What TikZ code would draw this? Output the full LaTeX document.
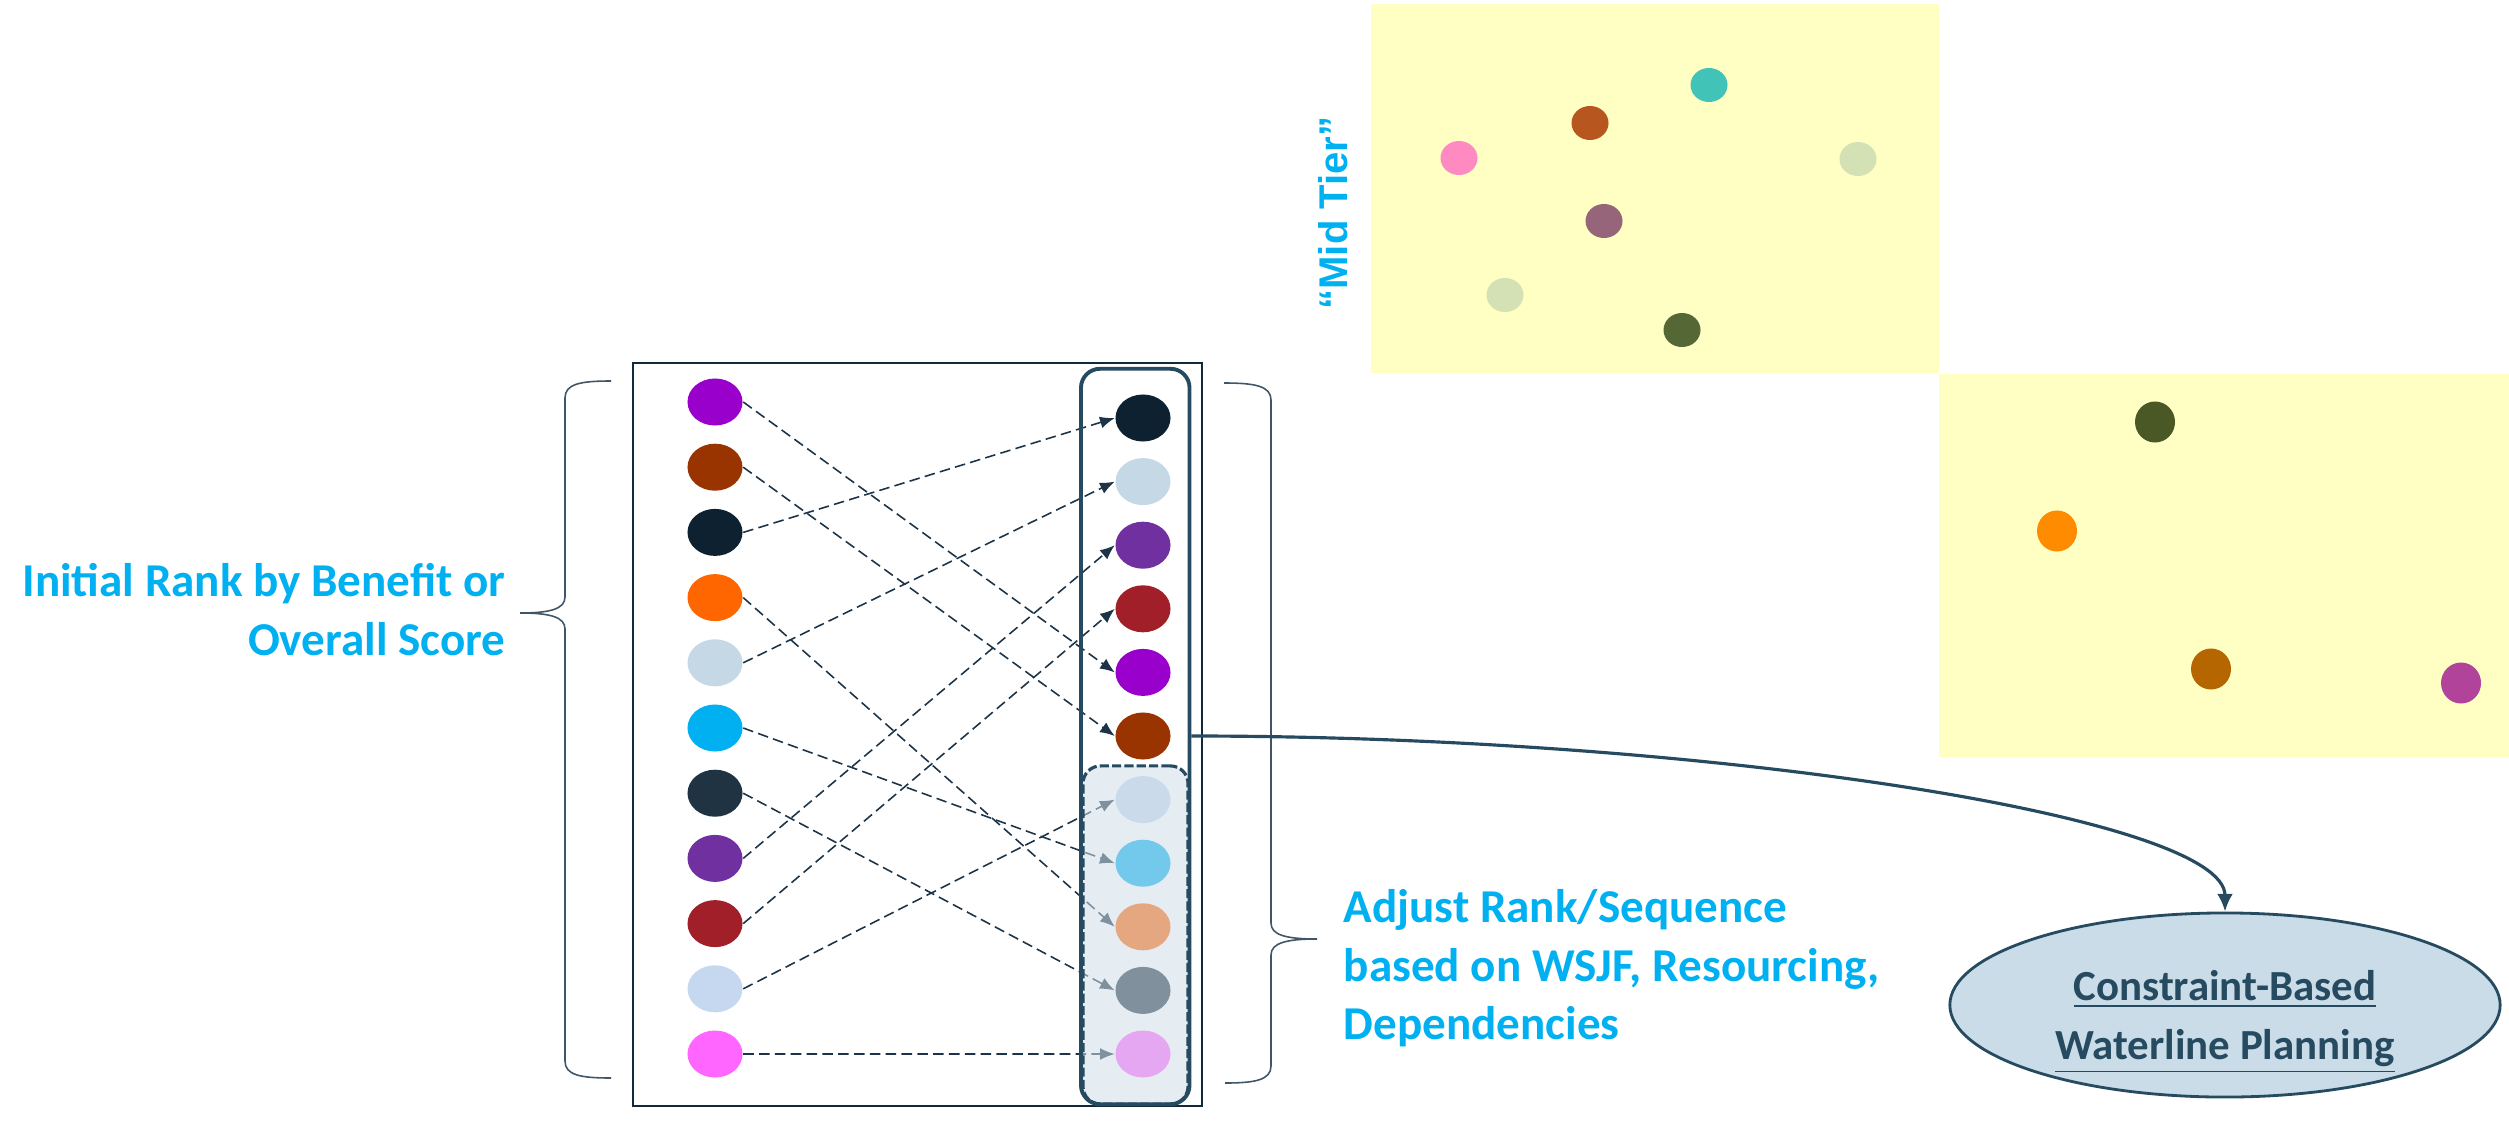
\documentclass[tikz,border=0pt]{standalone}
\usepackage{fontspec}
\setmainfont{Carlito}
\newfontfamily\arialfont{Liberation Sans}
\usetikzlibrary{arrows.meta,shapes.geometric}

\definecolor{rankblue}{HTML}{00B0F0}
\definecolor{inkdark}{HTML}{1D3448}
\definecolor{framedark}{HTML}{0F2A3D}
\definecolor{slateline}{HTML}{264A60}
\definecolor{bracegray}{HTML}{405567}
\definecolor{holdfill}{HTML}{D0DEE8}
\definecolor{planfill}{HTML}{C9DCE8}
\definecolor{tieryellow}{HTML}{FFFFC4}
\definecolor{cViolet}{HTML}{9900CC}
\definecolor{cBrown}{HTML}{993300}
\definecolor{cNavy}{HTML}{0D2130}
\definecolor{cOrange}{HTML}{FF6600}
\definecolor{cMist}{HTML}{C4D9E5}
\definecolor{cCyan}{HTML}{00B0F0}
\definecolor{cSlate}{HTML}{1F3342}
\definecolor{cPurple}{HTML}{7030A0}
\definecolor{cRed}{HTML}{A01F28}
\definecolor{cSky}{HTML}{C6D7F0}
\definecolor{cPink}{HTML}{FF66FF}
\definecolor{dPink}{HTML}{FF8AC1}
\definecolor{dRust}{HTML}{B8561F}
\definecolor{dTeal}{HTML}{41C4B7}
\definecolor{dSage}{HTML}{D3E1B4}
\definecolor{dMauve}{HTML}{976579}
\definecolor{dOlive}{HTML}{556734}
\definecolor{dMoss}{HTML}{4A5826}
\definecolor{dAmber}{HTML}{FF8C00}
\definecolor{dOchre}{HTML}{B56600}
\definecolor{dPlum}{HTML}{B1439B}

\begin{document}
\begin{tikzpicture}[x=0.01cm, y=-0.01cm,
    item/.style={ellipse, minimum width=5.5mm, minimum height=4.7mm, inner sep=0pt},
    speck/.style={ellipse, minimum width=3.7mm, minimum height=3.4mm, inner sep=0pt},
    bigspeck/.style={ellipse, minimum width=4mm, minimum height=4.1mm, inner sep=0pt},
    link/.style={inkdark, line width=0.45pt, dash pattern=on 3pt off 1.5pt, -{Latex[length=4.2pt,width=3.4pt]}},
    brace/.style={bracegray, line width=0.45pt},
    note/.style={text=rankblue, font=\fontsize{13.4}{16.6}\selectfont\bfseries, inner sep=0pt}]
    \useasboundingbox (0,0) rectangle (2509,1124);

    % tier areas
    \fill[tieryellow] (1371,4) rectangle (1939,373);
    \fill[tieryellow] (1939,374) rectangle (2509,757);
    \foreach \c/\p [count=\i] in {dPink/{1459,158}, dRust/{1590,123}, dTeal/{1709,85}, dSage/{1858,159}, dMauve/{1604,221}, dSage/{1505,295}, dOlive/{1682,330}}
        \node[speck, fill=\c] (t\i) at (\p) {};
    \foreach \c/\p [count=\i] in {dMoss/{2155,422}, dAmber/{2057,531}, dOchre/{2211,669}, dPlum/{2461,683}}
        \node[bigspeck, fill=\c] (u\i) at (\p) {};
    \node[rotate=90, text=rankblue, font=\arialfont\bfseries\fontsize{11.4}{14}\selectfont, inner sep=0pt] (midtier) at (1333,213) {“Mid Tier”};

    % ranked lists
    \draw[framedark, line width=0.6pt] (633,363) rectangle (1202,1106);
    \foreach \c [count=\i] in {cViolet, cBrown, cNavy, cOrange, cMist, cCyan, cSlate, cPurple, cRed, cSky, cPink}
        \node[item, fill=\c] (l\i) at (715, {402+65.2*(\i-1)}) {};
    \foreach \c [count=\i] in {cNavy, cMist, cPurple, cRed, cViolet, cBrown, cSky, cCyan, cOrange, cSlate, cPink}
        \node[item, fill=\c] (r\i) at (1143, {418+63.6*(\i-1)}) {};

    \foreach \a/\b in {1/5, 2/6, 3/1, 4/9, 5/2, 6/8, 7/10, 8/3, 9/4, 10/7, 11/11}
        \draw[link] (l\a.east) -- (r\b.west);

    \node[draw=slateline, dash pattern=on 2.6pt off 0.9pt, line width=0.9pt, fill=holdfill, fill opacity=0.55, draw opacity=1, rounded corners=5pt, minimum width=1.05cm, minimum height=3.38cm] (hold) at (1135.5,935) {};
    \node[draw=slateline, line width=1.1pt, rounded corners=5.4pt, minimum width=1.085cm, minimum height=7.35cm] (sel) at (1135.25,736.5) {};

    % braces
    \draw[brace] (611,381) .. controls (580,381) and (565,384) .. (565,398) -- (565,597) .. controls (565,609) and (550,613) .. (520,613) .. controls (550,613) and (565,617) .. (565,629) -- (565,1061) .. controls (565,1075) and (580,1078) .. (611,1078);
    \draw[brace] (1224,383) .. controls (1255,383) and (1271,386) .. (1271,400) -- (1271,923) .. controls (1271,935) and (1286,939) .. (1317,939) .. controls (1286,939) and (1271,943) .. (1271,955) -- (1271,1066) .. controls (1271,1080) and (1255,1083) .. (1225,1083);

    \node[note, align=right, anchor=north east] (initial) at (506,563) {Initial Rank by Benefit or\\Overall Score};
    \node[note, align=left, anchor=north west] (adjust) at (1343,889) {Adjust Rank/Sequence\\based on WSJF, Resourcing,\\Dependencies};

    % planning
    \node[ellipse, draw=slateline, line width=0.8pt, fill=planfill, minimum width=5.5cm, minimum height=1.84cm, inner sep=0pt] (plan) at (2225,1005) {};
    \node[text=slateline, font=\fontsize{12.2}{16.6}\selectfont\bfseries, align=center, inner sep=0pt] (plantext) at (2225,1022) {\underline{Constraint-Based}\\\underline{Waterline Planning}};
    \draw[slateline, line width=0.9pt, -{Latex[length=5pt,width=4.5pt]}] (r6 -| sel.east) .. controls +(510,0) and +(0,-95) .. (plan.north);
\end{tikzpicture}
\end{document}
